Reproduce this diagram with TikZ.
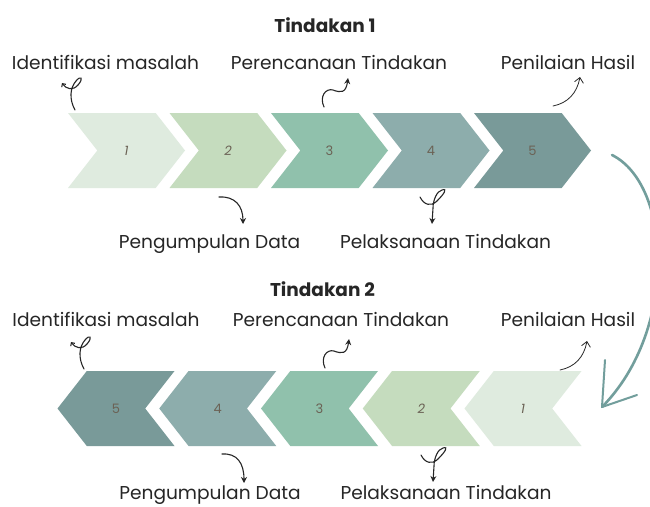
\documentclass[tikz,border=0pt]{standalone}
\usepackage{fontspec}
\setmainfont{Poppins}
\usepackage{xcolor}
\usepackage{tikz}
\usetikzlibrary{arrows.meta, shapes.symbols, positioning}

\definecolor{stepA}{HTML}{DFEBDF}
\definecolor{stepB}{HTML}{C5DCBE}
\definecolor{stepC}{HTML}{90C1AC}
\definecolor{stepD}{HTML}{8DADAC}
\definecolor{stepE}{HTML}{799A99}
\definecolor{numtext}{HTML}{6B6255}
\definecolor{looparrow}{HTML}{729E9C}

\begin{document}
\begin{tikzpicture}[
        x=1pt, y=-1pt,
        every node/.style={font=\fontsize{18.6}{20}\selectfont, text=black!85},
        chevR/.style={signal, signal to=east, signal from=west,
            minimum width=117pt, minimum height=75pt, signal pointer angle=104,
            inner sep=0pt, text=numtext, font=\fontsize{13}{15}\selectfont},
        chevL/.style={chevR, signal to=west, signal from=east},
        lbl/.style={anchor=base},
        ttl/.style={anchor=base, font=\bfseries\fontsize{18.5}{20}\selectfont},
        squig/.style={line width=1.1pt, line cap=round, black!85},
        bigarrow/.style={line width=2.6pt, line cap=round, looparrow}
    ]
    \useasboundingbox (0,0) rectangle (650,506);
    \fill[white] (0,0) rectangle (650,506);
    \clip (0,0) rectangle (650,506);

    % Tindakan 1
    \node[ttl] (title1) at (325,32) {Tindakan 1};
    \foreach \i/\c in {1/stepA, 2/stepB, 3/stepC, 4/stepD, 5/stepE}
        \node[chevR, fill=\c] (a\i) at ({126.5+101.5*(\i-1)},150.5) {\ifnum\i<3 \itshape\fi\i};

    \node[lbl] (ident1) at (105.5,69) {Identifikasi masalah};
    \node[lbl] (renc1) at (339,69) {Perencanaan Tindakan};
    \node[lbl] (nilai1) at (568,69) {Penilaian Hasil};
    \node[lbl] (kumpul1) at (209.5,248) {Pengumpulan Data};
    \node[lbl] (laks1) at (445.5,248) {Pelaksanaan Tindakan};

    % Tindakan 2
    \node[ttl] (title2) at (322.5,296) {Tindakan 2};
    \foreach \i/\c in {1/stepA, 2/stepB, 3/stepC, 4/stepD, 5/stepE}
        \node[chevL, fill=\c] (b\i) at ({116+101.75*(5-\i)},408.5) {\ifnum\i<3 \itshape\fi\i};

    \node[lbl] (ident2) at (106,326) {Identifikasi masalah};
    \node[lbl] (renc2) at (341,326) {Perencanaan Tindakan};
    \node[lbl] (nilai2) at (568,326) {Penilaian Hasil};
    \node[lbl] (kumpul2) at (210,499) {Pengumpulan Data};
    \node[lbl] (laks2) at (446,499) {Pelaksanaan Tindakan};

    % squiggles, row 1
    \coordinate (idS1) at (75,110);   \coordinate (idE1) at (62,83);
    \coordinate (reS1) at (324,107);  \coordinate (reE1) at (348,78);
    \coordinate (niS1) at (553,106);  \coordinate (niE1) at (580,77);
    \coordinate (kuS1) at (219,197);  \coordinate (kuE1) at (243,224);
    \coordinate (laS1) at (420,197);  \coordinate (laE1) at (432,224);
    \draw[squig, -{Straight Barb[length=2.5pt,width=5pt]}] (idS1) .. controls (69,99) and (70,88) .. (76,81)
        .. controls (81,75) and (84,78) .. (78,85) .. controls (73,91) and (66,89) .. (idE1);
    \draw[squig, -{Stealth[length=6pt,width=6pt]}] (reS1) .. controls (319,96) and (326,88) .. (333,90)
        .. controls (341,93) and (346,93) .. (reE1);
    \draw[squig, line width=0.8pt, -{Straight Barb[length=5pt,width=9pt]}] (niS1) .. controls (568,103) and (577,93) .. (niE1);
    \draw[squig, -{Stealth[length=6pt,width=6pt]}] (kuS1) .. controls (235,196) and (243,206) .. (kuE1);
    \draw[squig, -{Stealth[length=6pt,width=6pt]}] (laS1) .. controls (424,205) and (431,207) .. (437,201)
        .. controls (444,194) and (448,188) .. (442,190) .. controls (437,191) and (433,200) .. (433,208) -- (laE1);

    % squiggles, row 2
    \coordinate (idS2) at (84,369);   \coordinate (idE2) at (71,342);
    \coordinate (reS2) at (325,368);  \coordinate (reE2) at (349,339);
    \coordinate (niS2) at (560,370);  \coordinate (niE2) at (587,341);
    \coordinate (kuS2) at (222,454);  \coordinate (kuE2) at (244,483);
    \coordinate (laS2) at (421,455);  \coordinate (laE2) at (433,482);
    \draw[squig, -{Straight Barb[length=2.5pt,width=5pt]}] (idS2) .. controls (78,358) and (79,347) .. (85,340)
        .. controls (90,334) and (93,337) .. (87,344) .. controls (82,350) and (75,348) .. (idE2);
    \draw[squig, -{Stealth[length=6pt,width=6pt]}] (reS2) .. controls (320,357) and (327,349) .. (334,351)
        .. controls (342,354) and (347,354) .. (reE2);
    \draw[squig, line width=0.8pt, -{Straight Barb[length=5pt,width=9pt]}] (niS2) .. controls (575,367) and (584,357) .. (niE2);
    \draw[squig, -{Stealth[length=6pt,width=6pt]}] (kuS2) .. controls (237,453) and (244,463) .. (kuE2);
    \draw[squig, -{Stealth[length=6pt,width=6pt]}] (laS2) .. controls (425,463) and (432,465) .. (438,459)
        .. controls (445,452) and (449,446) .. (443,448) .. controls (438,449) and (434,458) .. (434,466) -- (laE2);

    % big loop arrow between the rows
    \coordinate (loopS) at (612,155);
    \coordinate (loopE) at (602,407);
    \draw[bigarrow] (loopS) .. controls (672,185) and (678,330) .. (loopE);
    \draw[bigarrow, line width=2pt] (loopE) -- ++(3,-47);
    \draw[bigarrow, line width=2pt] (loopE) -- ++(35,-12);
\end{tikzpicture}
\end{document}
